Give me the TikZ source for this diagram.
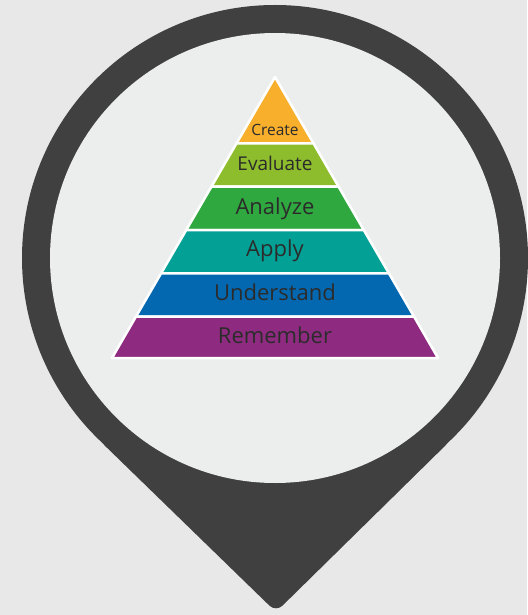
\documentclass[tikz,border=0pt]{standalone}
\usepackage{fontspec}
\setmainfont{Open Sans}
\definecolor{bgc}{HTML}{E8E8E8}
\definecolor{pinc}{HTML}{404040}
\definecolor{innerc}{HTML}{ECEEED}
\definecolor{cCreate}{HTML}{F8AF2B}
\definecolor{cEval}{HTML}{8DBD2C}
\definecolor{cAnal}{HTML}{2FA840}
\definecolor{cApply}{HTML}{03A095}
\definecolor{cUnder}{HTML}{0468B1}
\definecolor{cRem}{HTML}{8E2B80}
\definecolor{txt}{HTML}{2B2B2B}
\begin{document}
\begin{tikzpicture}[x=1pt,y=-1pt,
  band/.style={draw=white, line width=2.5pt, line join=round},
  lbl/.style={text=txt, anchor=base, inner sep=0pt}]
\useasboundingbox (0,0) rectangle (527,615);
\fill[bgc] (0,0) rectangle (527,615);
% pin
\fill[pinc] (275,258) circle (253);
\fill[pinc, rounded corners=9pt] (98,439) -- (276,612) -- (452,439) -- (275,258) -- cycle;
\fill[innerc] (275,258) circle (225);
% pyramid bands
\filldraw[band, fill=cCreate] (275,77) -- (313.45,143.3) -- (236.55,143.3) -- cycle;
\filldraw[band, fill=cEval] (236.55,143.3) -- (313.45,143.3) -- (338.6,186.7) -- (211.4,186.7) -- cycle;
\filldraw[band, fill=cAnal] (211.4,186.7) -- (338.6,186.7) -- (363.75,230) -- (186.25,230) -- cycle;
\filldraw[band, fill=cApply] (186.25,230) -- (363.75,230) -- (388.9,273.3) -- (161.1,273.3) -- cycle;
\filldraw[band, fill=cUnder] (161.1,273.3) -- (388.9,273.3) -- (414.1,316.7) -- (135.9,316.7) -- cycle;
\filldraw[band, fill=cRem] (135.9,316.7) -- (414.1,316.7) -- (438,358) -- (112,358) -- cycle;
% labels
\node[lbl, font=\fontsize{15.5}{18}\selectfont] (create) at (275,135.3) {Create};
\node[lbl, font=\fontsize{19}{22}\selectfont] (evaluate) at (275,170.7) {Evaluate};
\node[lbl, font=\fontsize{22}{25}\selectfont] (analyze) at (275,214) {Analyze};
\node[lbl, font=\fontsize{22}{25}\selectfont] (apply) at (275,256.7) {Apply};
\node[lbl, font=\fontsize{22}{25}\selectfont] (understand) at (275,300.7) {Understand};
\node[lbl, font=\fontsize{22}{25}\selectfont] (remember) at (275,343.3) {Remember};
\end{tikzpicture}
\end{document}
